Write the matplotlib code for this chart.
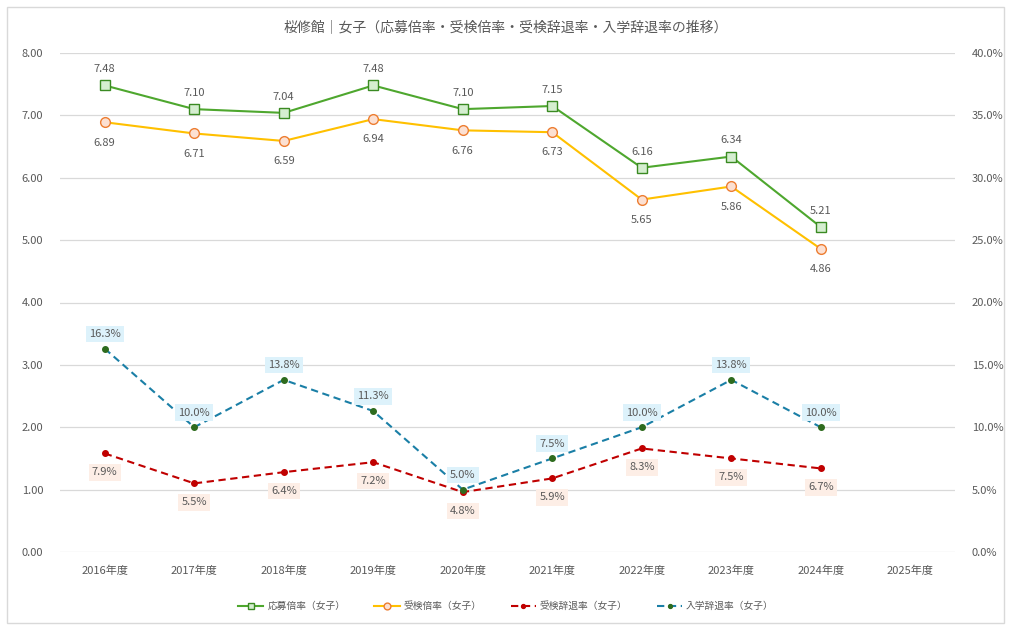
import matplotlib
matplotlib.use("Agg")
import matplotlib.pyplot as plt
from matplotlib.patches import Rectangle
from matplotlib.ticker import FuncFormatter

plt.rcParams['font.family'] = ['Noto Sans CJK JP', 'DejaVu Sans']

years = ["2016年度", "2017年度", "2018年度", "2019年度", "2020年度",
         "2021年度", "2022年度", "2023年度", "2024年度", "2025年度"]
oubo = [7.48, 7.10, 7.04, 7.48, 7.10, 7.15, 6.16, 6.34, 5.21]
juken = [6.89, 6.71, 6.59, 6.94, 6.76, 6.73, 5.65, 5.86, 4.86]
juken_jitai = [7.9, 5.5, 6.4, 7.2, 4.8, 5.9, 8.3, 7.5, 6.7]
nyugaku_jitai = [16.3, 10.0, 13.8, 11.3, 5.0, 7.5, 10.0, 13.8, 10.0]

title = "桜修館｜女子（応募倍率・受検倍率・受検辞退率・入学辞退率の推移）"
names = ["応募倍率（女子）", "受検倍率（女子）", "受検辞退率（女子）", "入学辞退率（女子）"]

W, H = 1012, 629
fig = plt.figure(figsize=(W/100, H/100), dpi=100)
fig.patch.set_facecolor('white')
fig.patches.append(Rectangle((7/W, 1-623/H), (1004-7)/W, (623-7)/H, transform=fig.transFigure,
                             fill=False, edgecolor='#D9D9D9', linewidth=1))

left, right, top, bottom = 60, 955, 53, 552
ax = fig.add_axes([left/W, 1-bottom/H, (right-left)/W, (bottom-top)/H])
ax2 = ax.twinx()

x = list(range(len(years)))
n = len(oubo)
txtc = '#595959'

ax.set_xlim(-0.5, len(years)-0.5)
ax.set_ylim(0, 8)
ax2.set_ylim(0, 40)
ax.set_yticks([i*1.0 for i in range(9)])
ax.yaxis.set_major_formatter(FuncFormatter(lambda v, p: f"{v:.2f}"))
ax2.set_yticks([i*5.0 for i in range(9)])
ax2.yaxis.set_major_formatter(FuncFormatter(lambda v, p: f"{v:.1f}%"))
ax.set_xticks(x)
ax.set_xticklabels(years)
ax.grid(axis='y', color='#D9D9D9', linewidth=0.9)
ax.set_axisbelow(True)
for a in (ax, ax2):
    for s in a.spines.values():
        s.set_visible(False)
    a.tick_params(length=0, labelsize=8, colors=txtc)
ax.tick_params(axis='x', pad=10)
ax.tick_params(axis='y', pad=12)
ax2.tick_params(axis='y', pad=12)

l1, = ax.plot(x[:n], oubo, color='#4EA72E', linewidth=1.5, marker='s', markersize=7,
              markerfacecolor='#D5EED0', markeredgecolor='#3A8A22', markeredgewidth=1.0,
              label=names[0], zorder=3)
l2, = ax.plot(x[:n], juken, color='#FFC000', linewidth=1.5, marker='o', markersize=7,
              markerfacecolor='#FCE0D2', markeredgecolor='#ED7D31', markeredgewidth=1.0,
              label=names[1], zorder=3)
l3, = ax2.plot(x[:n], juken_jitai, color='#C00000', linewidth=1.5, linestyle=(0, (3.5, 2.2)),
               marker='o', markersize=4, markerfacecolor='#C00000', markeredgecolor='#C00000',
               label=names[2], zorder=3)
l4, = ax2.plot(x[:n], nyugaku_jitai, color='#1A7FA6', linewidth=1.5, linestyle=(0, (3.5, 2.2)),
               marker='o', markersize=4, markerfacecolor='#2E6B1E', markeredgecolor='#2E6B1E',
               label=names[3], zorder=3)

for xi, v in zip(x, oubo):
    ax.annotate(f"{v:.2f}", (xi, v), xytext=(0, 8), textcoords='offset points',
                ha='center', va='bottom', fontsize=8, color=txtc)
for xi, v in zip(x, juken):
    ax.annotate(f"{v:.2f}", (xi, v), xytext=(0, -11), textcoords='offset points',
                ha='center', va='top', fontsize=8, color=txtc)
for xi, v in zip(x, nyugaku_jitai):
    ax2.annotate(f"{v:.1f}%", (xi, v), xytext=(0, 7), textcoords='offset points',
                 ha='center', va='bottom', fontsize=8, color=txtc, zorder=4,
                 bbox=dict(boxstyle='square,pad=0.3', facecolor='#DDF2FB', edgecolor='none'))
for xi, v in zip(x, juken_jitai):
    ax2.annotate(f"{v:.1f}%", (xi, v), xytext=(0, -10), textcoords='offset points',
                 ha='center', va='top', fontsize=8, color=txtc, zorder=4,
                 bbox=dict(boxstyle='square,pad=0.3', facecolor='#FDEEE6', edgecolor='none'))

fig.text(0.5, 1-27/H, title, ha='center', va='center', fontsize=10, color=txtc)

leg = fig.legend(handles=[l1, l2, l3, l4], loc='center', bbox_to_anchor=(0.5, 1-606/H),
                 ncol=4, frameon=False, fontsize=7, handlelength=2.6, columnspacing=3.0,
                 handletextpad=0.4, markerscale=0.7)
for t in leg.get_texts():
    t.set_color(txtc)

fig.savefig('out.png', dpi=100, facecolor='white')
